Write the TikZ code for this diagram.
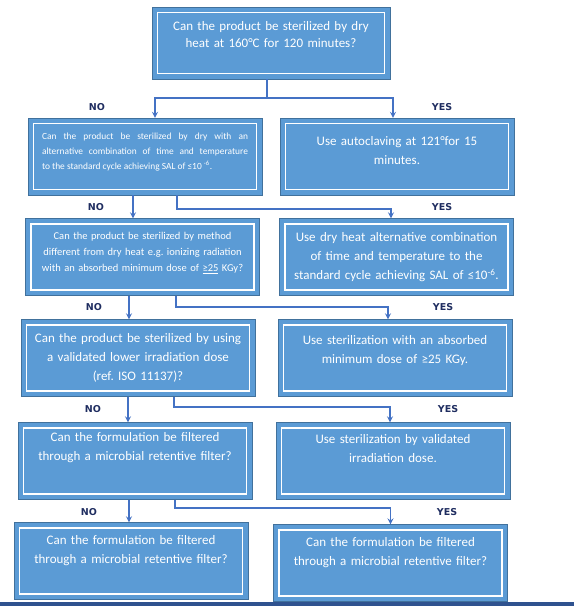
\documentclass[tikz,border=0pt]{standalone}
\usepackage{fontspec}
\setmainfont{Carlito}
\newfontfamily\answerfont{DejaVu Sans}
\usepackage{tikz}
\usetikzlibrary{shapes.geometric, arrows}
\definecolor{boxfill}{RGB}{91,155,213}
\definecolor{boxedge}{RGB}{65,113,156}
\definecolor{linkblue}{RGB}{68,114,196}
\definecolor{navy}{RGB}{31,45,96}
\definecolor{band}{RGB}{47,82,143}
\tikzstyle{question} = [rectangle, minimum width=234pt, minimum height=77pt, draw=boxedge, fill=boxfill, text=white, text width=220pt, text centered, font=\fontsize{13}{19}\selectfont, path picture={\draw[white,line width=1.5pt] ([xshift=5.5pt,yshift=-5.5pt]path picture bounding box.north west) rectangle ([xshift=-5.5pt,yshift=5.5pt]path picture bounding box.south east);}]
\tikzstyle{small} = [font=\fontsize{10.5}{16}\selectfont]
\tikzstyle{answer} = [text=navy, font=\answerfont\bfseries\fontsize{9.5}{11}\selectfont]
\tikzstyle{arrow} = [line width=1.6pt,->,>=stealth, draw=linkblue]
\newcommand{\spacebelow}[1]{\par\vspace{#1}}
\frenchspacing

\begin{document}
\begin{tikzpicture}[x=1pt, y=-1pt, node distance=100pt]
\useasboundingbox (0,0) rectangle (574,606);
\fill[band] (0,602) rectangle (574,606);

\node (dryheat) [question, minimum width=238pt, minimum height=72pt, font=\fontsize{13}{17}\selectfont] at (271,43) {Can the product be sterilized by dry\\ heat at 160°C for 120 minutes?\spacebelow{16pt}};
\node (altcycle) [question, below of=dryheat, xshift=-126pt, yshift=-13.5pt, font=\fontsize{9.4}{15}\selectfont, text width=206pt, text justified] {Can the product be sterilized by dry with an\linebreak alternative combination of time and temperature\linebreak to the standard cycle achieving SAL of ≤10 \textsuperscript{-6}.\spacebelow{9pt}};
\node (autoclave) [question, right of=altcycle, xshift=152pt] {Use autoclaving at 121°for 15\\ minutes.\spacebelow{11pt}};
\node (method) [question, small, below of=altcycle, xshift=-2.5pt, yshift=-0.5pt] {Can the product be sterilized by method\\ different from dry heat e.g. ionizing radiation\\ with an absorbed minimum dose of \underline{≥25} KGy?\spacebelow{8pt}};
\node (usealt) [question, right of=method, xshift=154pt] {Use dry heat alternative combination\\ of time and temperature to the\\ standard cycle achieving SAL of ≤10\textsuperscript{-6}.};
\node (lowdose) [question, below of=method, xshift=-4.5pt, yshift=-1pt] {Can the product be sterilized by using\\ a validated lower irradiation dose\\ (ref. ISO 11137)?};
\node (usedose) [question, right of=lowdose, xshift=157pt] {Use sterilization with an absorbed\\ minimum dose of ≥25 KGy.\spacebelow{14pt}};
\node (filter) [question, below of=lowdose, xshift=-3pt, yshift=-3pt] {Can the formulation be filtered\\ through a microbial retentive filter?\spacebelow{26pt}};
\node (usevalid) [question, right of=filter, xshift=158pt] {Use sterilization by validated\\ irradiation dose.\spacebelow{24pt}};
\node (filterno) [question, below of=filter, xshift=-4pt] {Can the formulation be filtered\\ through a microbial retentive filter?\spacebelow{20pt}};
\node (filteryes) [question, right of=filterno, xshift=159.5pt, yshift=-2pt] {Can the formulation be filtered\\ through a microbial retentive filter?\spacebelow{20pt}};

% answers
\node (no1) [answer] at (97,107) {NO};
\node (yes1) [answer] at (442,107) {YES};
\node (no2) [answer] at (96,207) {NO};
\node (yes2) [answer] at (442,207) {YES};
\node (no3) [answer] at (94,307) {NO};
\node (yes3) [answer] at (443,307) {YES};
\node (no4) [answer] at (93,409) {NO};
\node (yes4) [answer] at (448,409) {YES};
\node (no5) [answer] at (89,512) {NO};
\node (yes5) [answer] at (447,512) {YES};

% connectors
\draw[arrow] ([xshift=-4pt]dryheat.south) -- ++(0,19) -| ([xshift=10pt]altcycle.north);
\draw[arrow] ([xshift=-4pt]dryheat.south) -- ++(0,19) -| ([xshift=-4pt]autoclave.north);
\draw[arrow] ([xshift=-12pt]altcycle.south) -- ([xshift=-12pt]altcycle.south |- method.north);
\draw[arrow] ([xshift=32pt]altcycle.south) -- ++(0,14) -| ([xshift=-5.5pt]usealt.north);
\draw[arrow] ([xshift=-13.5pt]method.south) -- ([xshift=-13.5pt]method.south |- lowdose.north);
\draw[arrow] ([xshift=33.5pt]method.south) -- ++(0,11) -| ([xshift=-7pt]usedose.north);
\draw[arrow] ([xshift=-10pt]lowdose.south) -- ([xshift=-10pt]lowdose.south |- filter.north);
\draw[arrow] ([xshift=36pt]lowdose.south) -- ++(0,10) -| ([xshift=-3pt]usevalid.north);
\draw[arrow] ([xshift=-6pt]filter.south) -- ([xshift=-6pt]filter.south |- filterno.north);
\draw[arrow] ([xshift=40pt]filter.south) -- ++(0,8) -| (filteryes.north);
\end{tikzpicture}
\end{document}
